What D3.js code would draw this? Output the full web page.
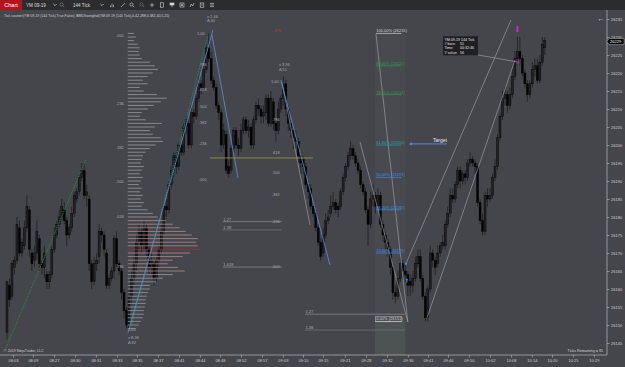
<!DOCTYPE html>
<html>
<head>
<meta charset="utf-8">
<script src="https://cdn.jsdelivr.net/npm/d3@7"></script>
<style>
  body { margin: 0; background: #45454c; }
  svg { display: block; font-family: "Liberation Sans", Arial, sans-serif; }
</style>
</head>
<body>
<svg id="chart" width="625" height="367"></svg>
<script>
// YM 09-19, 144 tick bars
const opens = [
  26148,26161,26158,26166,26168,26177,26170,26172,26177,26182,
  26170,26168,26170,26174,26167,26166,26164,26162,26164,26171,
  26175,26178,26180,26182,26179,26175,26177,26181,26185,26187,
  26191,26193,26186,26185,26167,26162,26167,26169,26176,26175,
  26170,26161,26163,26165,26174,26167,26165,26159,26154,26149,
  26158,26163,26167,26173,26176,26172,26177,26171,26166,26167,
  26163,26168,26171,26176,26183,26182,26189,26193,26197,26194,
  26200,26198,26205,26206,26200,26209,26208,26213,26217,26216,
  26221,26227,26224,26218,26216,26211,26209,26200,26203,26194,
  26193,26199,26204,26200,26199,26204,26207,26204,26205,26200,
  26207,26211,26210,26208,26209,26213,26206,26212,26206,26204,
  26210,26213,26217,26210,26206,26204,26202,26201,26197,26196,
  26194,26189,26188,26183,26181,26177,26173,26170,26175,26179,
  26181,26183,26184,26183,26183,26187,26191,26194,26197,26199,
  26197,26195,26193,26189,26187,26182,26178,26185,26186,26183,
  26186,26178,26175,26173,26171,26166,26159,26158,26163,26167,
  26165,26164,26162,26161,26163,26167,26169,26163,26158,26152,
  26160,26170,26168,26167,26170,26172,26172,26178,26181,26186,
  26185,26189,26193,26190,26192,26191,26195,26196,26195,26194,
  26184,26179,26176,26186,26185,26186,26191,26194,26202,26208,
  26213,26214,26211,26214,26219,26224,26226,26224,26220,26217,
  26214,26217,26221,26222,26218,26223,26227
];
const highs = [
  26162,26163,26168,26169,26180,26179,26174,26179,26186,26183,
  26171,26172,26179,26175,26168,26172,26165,26165,26172,26177,
  26179,26182,26185,26184,26180,26178,26183,26187,26188,26192,
  26195,26195,26189,26186,26168,26169,26170,26178,26177,26176,
  26171,26164,26166,26175,26176,26168,26166,26160,26155,26160,
  26165,26169,26175,26178,26177,26179,26178,26172,26170,26168,
  26169,26172,26178,26184,26185,26190,26194,26198,26198,26201,
  26201,26206,26208,26208,26211,26210,26214,26219,26218,26223,
  26228,26231,26226,26219,26217,26212,26210,26206,26204,26196,
  26200,26205,26205,26202,26206,26208,26208,26207,26206,26208,
  26212,26213,26211,26211,26214,26214,26215,26213,26207,26212,
  26214,26219,26218,26211,26207,26205,26204,26202,26198,26197,
  26195,26190,26189,26184,26182,26178,26174,26177,26181,26182,
  26186,26187,26185,26184,26188,26192,26195,26198,26201,26200,
  26198,26196,26194,26190,26188,26183,26187,26189,26187,26188,
  26187,26179,26176,26174,26172,26167,26161,26165,26169,26168,
  26167,26165,26164,26165,26169,26171,26171,26164,26159,26161,
  26172,26171,26169,26172,26173,26175,26179,26183,26188,26188,
  26190,26194,26194,26193,26193,26196,26198,26197,26196,26195,
  26185,26181,26187,26188,26188,26192,26196,26203,26209,26215,
  26216,26215,26216,26221,26226,26230,26230,26225,26221,26218,
  26218,26223,26224,26224,26225,26230,26230
];
const lows = [
  26146,26155,26157,26164,26167,26169,26169,26171,26176,26169,
  26165,26166,26168,26165,26164,26163,26160,26160,26163,26170,
  26174,26177,26179,26178,26172,26174,26176,26180,26184,26186,
  26190,26185,26183,26165,26160,26161,26165,26167,26173,26169,
  26160,26160,26162,26163,26166,26164,26157,26152,26149,26148,
  26156,26161,26165,26171,26170,26171,26169,26164,26164,26161,
  26162,26166,26170,26175,26180,26181,26188,26191,26192,26193,
  26197,26197,26203,26199,26199,26206,26207,26212,26214,26215,
  26220,26223,26217,26215,26210,26207,26198,26199,26192,26191,
  26192,26198,26199,26197,26198,26203,26203,26202,26199,26199,
  26206,26208,26206,26206,26207,26205,26205,26204,26201,26203,
  26209,26211,26208,26204,26202,26199,26199,26195,26192,26192,
  26188,26185,26182,26180,26176,26172,26168,26169,26174,26178,
  26180,26182,26181,26180,26182,26186,26190,26193,26196,26196,
  26194,26192,26188,26186,26181,26172,26177,26183,26181,26182,
  26177,26173,26171,26169,26164,26157,26156,26157,26162,26163,
  26162,26158,26158,26159,26162,26166,26162,26157,26151,26151,
  26159,26166,26164,26166,26169,26171,26171,26177,26180,26184,
  26184,26188,26188,26189,26189,26190,26194,26194,26192,26183,
  26178,26175,26175,26183,26184,26185,26190,26193,26201,26207,
  26211,26209,26210,26213,26218,26223,26222,26219,26216,26212,
  26213,26216,26219,26217,26217,26222,26225
];
const closes = [
  26162,26157,26167,26168,26178,26170,26173,26177,26183,26171,
  26167,26170,26176,26167,26166,26170,26162,26164,26171,26175,
  26178,26180,26183,26179,26175,26177,26181,26186,26187,26191,
  26193,26186,26187,26167,26162,26167,26168,26176,26175,26171,
  26161,26163,26165,26174,26167,26165,26159,26154,26150,26158,
  26163,26167,26173,26176,26172,26177,26171,26166,26168,26163,
  26168,26171,26176,26183,26182,26189,26193,26197,26194,26200,
  26198,26205,26207,26200,26209,26208,26213,26217,26216,26221,
  26227,26224,26218,26216,26211,26209,26200,26204,26193,26192,
  26199,26204,26200,26199,26204,26207,26204,26205,26200,26207,
  26211,26210,26208,26209,26213,26206,26213,26206,26204,26210,
  26213,26217,26210,26206,26204,26202,26201,26197,26195,26194,
  26189,26187,26183,26181,26177,26173,26169,26175,26179,26180,
  26183,26184,26182,26182,26187,26191,26194,26197,26199,26197,
  26195,26193,26189,26187,26182,26178,26185,26186,26183,26186,
  26178,26175,26173,26171,26166,26159,26158,26163,26167,26165,
  26164,26161,26161,26163,26167,26169,26163,26158,26152,26160,
  26170,26168,26166,26170,26172,26173,26178,26181,26186,26185,
  26189,26193,26190,26192,26191,26195,26196,26195,26194,26184,
  26179,26176,26186,26185,26186,26191,26194,26202,26208,26213,
  26214,26211,26214,26219,26224,26226,26224,26220,26217,26214,
  26217,26221,26222,26218,26223,26228,26229
];

// time axis: bar position of each label
const timeTickBars = [2.4,10.4,18.9,27.3,35.7,44.2,52.2,60.6,69.1,77.5,85.5,94.0,102.4,110.8,
  118.9,126.9,135.7,144.2,152.6,161.0,169.1,177.1,185.5,194.0,202.4,210.8,218.9,227.3,235.7];
const timeLabels = ["08:03","08:09","08:27","08:30","08:31","08:33","08:35","08:37","08:41","08:44",
  "08:48","08:52","08:57","09:03","09:10","09:15","09:21","09:28","09:32","09:36","09:41","09:46",
  "09:50","10:02","10:08","10:14","10:20","10:25","10:29"];
const priceTicks = d3.range(26145, 26236, 5);
const lastPrice = 26229;

// volume profile, one row per point from 26231 down to 26149
const profileTop = 26231;
const profileVol = [
  6,8,6,10,12,11,12,14,22,27,
  30,25,20,15,20,12,16,29,39,33,
  26,20,14,12,18,34,27,22,25,33,
  35,28,22,18,15,14,13,16,14,12,
  15,13,11,14,12,15,13,16,14,20,
  25,30,38,45,52,58,64,70,68,70,
  72,62,55,45,40,50,57,45,35,28,
  22,22,20,19,18,18,17,16,16,15,
  13,11,8
];
const profileBar = 48.5;
const valueHigh = 26179, valueLow = 26165, pocPrice = 26171;

// swing fib labels  [label, price]
const swingA = { bar: 43.8, one: [48.6, 26148.6], v: "v 8.36", d: "Δ 82",
  levels: [[".000",26230.3],[".236",26211.4],[".382",26199.4],[".500",26189.7],[".618",26180],[".786",26166.1]] };
const swingB = { bar: 77.1, one: [76.3, 26231], v: "v 2.46", d: "Δ 40",
  levels: [[".786",26222.2],[".618",26215.3],[".500",26210.8],[".382",26206.1],[".236",26200.3],[".000",26190.3]] };
const swingC = { bar: 106.4, one: [106.0, 26217.5], v: "v 3.96", d: "Δ 51",
  levels: [[".786",26207],[".618",26198],[".500",26192.2],[".382",26186.1],[".236",26178.6],[".000",26166.1]] };

// extension levels
const ext1 = { from: 86.7, to: 110.4, levels: [["1.27",26178.7],["1.38",26176.4],["1.618",26166.1]] };
const ext2 = { from: 119.7, to: 159.8, levels: [["1.27",26153],["1.38",26148.6]] };

// fib retracement tool
const fibPct = ["100.00%","88.60%","78.60%","61.80%","50.00%","38.20%","23.60%","0.00%"];
const fibPrice = [26231,26222,26214,26200,26191,26182,26170,26151];
const fibFrom = 148.2, fibTo = 158.4;

// drawn lines [bar1, price1, bar2, price2]
const greenLines = [[-0.8,26143,31.7,26196],[49.4,26148.3,80.7,26230.3]];
const blueLines = [[48.6,26147.8,82.7,26231.9],[82.3,26230.6,92.8,26190.8],[110,26218,129.7,26166.7]];
const grayLines = [[110.4,26217.5,121.7,26177.8],[141.8,26200.8,161,26150.8],[148.2,26230.8,161,26150.8],
  [160.2,26167,202.4,26234.7],[168.7,26152,204,26223.6],[189.2,26225,204.8,26223.1]];
const yellowLine = [81.5,26196.4,122.9];
const targetArrow = [176.7,161.4,26200.3];

const tooltip = { bar: 175.1, price: 26230.2,
  rows: [["YM 09-19 144 Tick",""],["# bars:","51"],["Time:","00:32:46"],["Y value:","56"]] };

const svg = d3.select("#chart");
const W = 625, H = 367;
const plotTop = 10, plotBottom = 355, plotRight = 607;

const x = d3.scaleLinear().domain([0, 216]).range([7, 544.8]);
const y = d3.scaleLinear().domain([26145, 26235]).range([343, 19]);
const FS = 4;

svg.append("rect").attr("width", W).attr("height", H).attr("fill", "#45454c");

svg.append("defs").append("clipPath").attr("id", "plot")
  .append("rect").attr("x", 0).attr("y", plotTop).attr("width", plotRight).attr("height", plotBottom - plotTop);

const plot = svg.append("g").attr("clip-path", "url(#plot)");

// fib tool band
plot.append("rect")
  .attr("x", x(fibFrom) - 1).attr("width", x(fibTo) - x(fibFrom) + 5)
  .attr("y", y(fibPrice[0])).attr("height", plotBottom - y(fibPrice[0]))
  .attr("fill", "#ffffff").attr("opacity", 0.025);
plot.append("rect")
  .attr("x", x(fibFrom) - 1).attr("width", x(fibTo) - x(fibFrom) + 5)
  .attr("y", y(fibPrice[7])).attr("height", plotBottom - y(fibPrice[7]))
  .attr("fill", "#6f9a6f").attr("opacity", 0.12);

// candles
const bars = opens.map((o, i) => ({ i, o, h: highs[i], l: lows[i], c: closes[i] }));
plot.append("g").selectAll("line").data(bars).join("line")
  .attr("x1", d => x(d.i)).attr("x2", d => x(d.i))
  .attr("y1", d => y(d.h)).attr("y2", d => y(d.l))
  .attr("stroke", "#1e1e22").attr("stroke-width", 0.8);
plot.append("g").selectAll("rect").data(bars).join("rect")
  .attr("x", d => x(d.i) - 1).attr("width", 2)
  .attr("y", d => y(Math.max(d.o, d.c)))
  .attr("height", d => Math.max(0.7, Math.abs(y(d.o) - y(d.c))))
  .attr("fill", d => d.c >= d.o ? "#232327" : "#050505")
  .attr("stroke", "#000").attr("stroke-width", 0.4);

// volume profile
const vx = d3.scaleLinear().domain([0, 72]).range([0, 72]);
const rows = profileVol.map((v, k) => ({ p: profileTop - k, v }));
plot.append("g").selectAll("line").data(rows).join("line")
  .attr("x1", x(profileBar)).attr("x2", d => x(profileBar) + vx(d.v))
  .attr("y1", d => y(d.p)).attr("y2", d => y(d.p))
  .attr("stroke", d => d.p === pocPrice ? "#b22a2a" : (d.p >= valueLow && d.p <= valueHigh ? "#c49a9a" : "#a9a9b0"))
  .attr("stroke-width", 0.9).attr("opacity", 0.75);

// lines
const seg = (g, arr, color, w, dash) => g.selectAll(null).data(arr).join("line")
  .attr("x1", d => x(d[0])).attr("y1", d => y(d[1]))
  .attr("x2", d => x(d[2])).attr("y2", d => y(d[3]))
  .attr("stroke", color).attr("stroke-width", w).attr("stroke-dasharray", dash || null);
seg(plot.append("g"), grayLines, "#a8a8ae", 0.6);
seg(plot.append("g"), greenLines, "#2f9a3a", 0.7, "1.5,1");
seg(plot.append("g"), blueLines, "#5b93d8", 0.8);

plot.append("line")
  .attr("x1", x(yellowLine[0])).attr("x2", x(yellowLine[2]))
  .attr("y1", y(yellowLine[1])).attr("y2", y(yellowLine[1]))
  .attr("stroke", "#9a9a2a").attr("stroke-width", 0.8);

// fib label sets
const txt = (g, tx, ty, s, color, size, anchor) => g.append("text")
  .attr("x", tx).attr("y", ty).attr("dy", "0.35em")
  .attr("fill", color || "#a8a8ae").attr("font-size", size || FS)
  .attr("text-anchor", anchor || "start").text(s);

[swingA, swingB, swingC].forEach((s, k) => {
  const g = plot.append("g");
  s.levels.forEach(([lab, p]) => txt(g, x(s.bar), y(p), lab));
  txt(g, x(s.one[0]), y(s.one[1]), "1.00");
  const down = k === 0;
  const vx0 = k === 0 ? x(s.one[0]) : x(s.one[0]) + (k === 1 ? 10 : 8);
  txt(g, vx0, y(s.one[1]) + (down ? 8 : -17), s.v);
  txt(g, vx0, y(s.one[1]) + (down ? 12.5 : -12.5), s.d);
});
txt(plot, x(106.4), y(26231.7), "- 278", "#c43030");

[ext1, ext2].forEach(e => {
  const g = plot.append("g");
  e.levels.forEach(([lab, p], k) => {
    g.append("line").attr("x1", x(e.from)).attr("x2", x(e.to))
      .attr("y1", y(p)).attr("y2", y(p))
      .attr("stroke", k === 1 ? "#7d7d85" : "#9a9aa6").attr("stroke-width", 0.6);
    txt(g, x(e.from) + 0.5, y(p) - 2.4, lab);
  });
});

// fib retracement labels
const fibColors = ["#d6d6d6","#2e9a4c","#2e9a4c","#21a3a0","#3d8fe0","#3d8fe0","#3d8fe0","#d6d6d6"];
const gf = plot.append("g");
fibPct.forEach((pc, k) => {
  const py = y(fibPrice[k]);
  gf.append("line").attr("x1", x(fibFrom)).attr("x2", x(fibTo))
    .attr("y1", py).attr("y2", py).attr("stroke", fibColors[k]).attr("stroke-width", 0.7);
  gf.append("text").attr("x", x(fibFrom) + 0.3).attr("y", py - 1)
    .attr("fill", fibColors[k]).attr("font-size", FS).text(`${pc} (${fibPrice[k]})`);
});
gf.append("rect").attr("x", x(fibFrom) - 0.5).attr("y", y(fibPrice[7]) - 4.6)
  .attr("width", x(fibTo) - x(fibFrom) + 1).attr("height", 5)
  .attr("fill", "none").attr("stroke", "#c8c8c8").attr("stroke-width", 0.5);

// target arrow
const ty0 = y(targetArrow[2]);
plot.append("line").attr("x1", x(targetArrow[0])).attr("x2", x(targetArrow[1]) + 2)
  .attr("y1", ty0).attr("y2", ty0).attr("stroke", "#5b8fe0").attr("stroke-width", 0.9);
plot.append("path")
  .attr("d", `M${x(targetArrow[1])},${ty0} l3,-1.6 l0,3.2 z`).attr("fill", "#5b8fe0");
plot.append("text").attr("x", x(targetArrow[0])).attr("y", ty0 - 2.2)
  .attr("text-anchor", "end").attr("fill", "#e8e8e8").attr("font-size", 5).text("Target");

// markers
plot.append("rect").attr("x", x(160.2) - 1).attr("y", y(26167) - 1).attr("width", 2).attr("height", 2).attr("fill", "#3d8fe8");
plot.append("path").attr("d", `M${x(160.6)},${y(26163)} l-1.5,2 l1,0 l0,2.5 l1,0 l0,-2.5 l1,0 z`).attr("fill", "#3d8fe8");
plot.append("rect").attr("x", x(205) - 0.9).attr("y", y(26233)).attr("width", 1.8)
  .attr("height", y(26231.4) - y(26233)).attr("fill", "#e020e0");
plot.append("rect").attr("x", x(205.4) - 0.8).attr("y", y(26223.2)).attr("width", 1.6)
  .attr("height", 2).attr("fill", "#e020e0");

// tooltip
const tx0 = x(tooltip.bar), tyT = y(tooltip.price);
plot.append("rect").attr("x", tx0).attr("y", tyT).attr("width", 35).attr("height", 19)
  .attr("fill", "#1e1e20").attr("opacity", 0.95);
tooltip.rows.forEach(([a, b], k) => {
  plot.append("text").attr("x", tx0 + 1.5).attr("y", tyT + 4.3 + k * 4.4)
    .attr("fill", "#e6e6e6").attr("font-size", 3.6).text(a);
  plot.append("text").attr("x", tx0 + 17).attr("y", tyT + 4.3 + k * 4.4)
    .attr("fill", "#e6e6e6").attr("font-size", 3.6).text(b);
});

// texts in plot
svg.append("text").attr("x", 4).attr("y", 17).attr("fill", "#d0d0d0").attr("font-size", 3.5)
  .text("Tick counter(YM 09-19 (144 Tick),True,False), BMDSwingInd(YM 09-19 (144 Tick),0.42,288,0.382,40,5,25)");
svg.append("text").attr("x", 4).attr("y", 352).attr("fill", "#d0d0d0").attr("font-size", 3.6)
  .text("© 2019 NinjaTrader, LLC");
svg.append("text").attr("x", 603).attr("y", 352).attr("text-anchor", "end").attr("fill", "#d8d8d8")
  .attr("font-size", 3.7).text("Ticks Remaining = 91");
svg.append("text").attr("x", 601).attr("y", 21).attr("text-anchor", "middle").attr("fill", "#d8d8d8")
  .attr("font-size", 7).text("←");

// right axis
const yAxis = svg.append("g").attr("transform", `translate(${plotRight},0)`)
  .call(d3.axisRight(y).tickValues(priceTicks).tickSize(2.5).tickPadding(1.5).tickFormat(d3.format("d")));
yAxis.select(".domain").remove();
yAxis.selectAll("line").attr("stroke", "#b8b8b8").attr("stroke-width", 0.6);
yAxis.selectAll("text").attr("fill", "#cfcfcf").attr("font-size", FS).attr("font-family", "Liberation Sans, Arial");
svg.append("line").attr("x1", plotRight).attr("x2", plotRight).attr("y1", plotTop).attr("y2", plotBottom)
  .attr("stroke", "#b8b8b8").attr("stroke-width", 0.7);

// last price box
const lp = y(lastPrice) + 1;
svg.append("path").attr("d", `M${plotRight},${lp} l2,-3 l15,0 l0,6 l-15,0 z`).attr("fill", "#000")
  .attr("stroke", "#ddd").attr("stroke-width", 0.4);
svg.append("text").attr("x", plotRight + 3).attr("y", lp).attr("dy", "0.35em").attr("fill", "#fff")
  .attr("font-size", FS).text(lastPrice);

// bottom axis
const xAxis = svg.append("g").attr("transform", `translate(0,${plotBottom})`)
  .call(d3.axisBottom(x).tickValues(timeTickBars).tickSize(2.5).tickPadding(2)
    .tickFormat((d, i) => timeLabels[i]));
xAxis.select(".domain").remove();
xAxis.selectAll("line").attr("stroke", "#b8b8b8").attr("stroke-width", 0.6);
xAxis.selectAll("text").attr("fill", "#cfcfcf").attr("font-size", FS).attr("font-family", "Liberation Sans, Arial");
svg.append("line").attr("x1", 0).attr("x2", plotRight).attr("y1", plotBottom).attr("y2", plotBottom)
  .attr("stroke", "#b8b8b8").attr("stroke-width", 0.7);

// toolbar
const tb = svg.append("g");
tb.append("rect").attr("width", W).attr("height", plotTop).attr("fill", "#2c2c2e");
tb.append("rect").attr("width", 22).attr("height", plotTop).attr("fill", "#b3141c");
tb.append("text").attr("x", 11).attr("y", 7.3).attr("text-anchor", "middle").attr("fill", "#fff")
  .attr("font-size", 5.6).text("Chart");
tb.append("text").attr("x", 26).attr("y", 6.8).attr("fill", "#dcdcdc").attr("font-size", 4.6).text("YM 09-19");
tb.append("text").attr("x", 73).attr("y", 6.8).attr("fill", "#dcdcdc").attr("font-size", 4.6).text("144 Tick");
const ic = "#d8d8d8";
[55, 102].forEach(cx => tb.append("path").attr("d", `M${cx - 1.6},${4} l1.6,1.6 l1.6,-1.6`)
  .attr("fill", "none").attr("stroke", ic).attr("stroke-width", 0.7));
const icon = (cx, draw) => draw(tb.append("g").attr("transform", `translate(${cx},5)`)
  .attr("fill", "none").attr("stroke", ic).attr("stroke-width", 0.6));
const mag = g => { g.append("circle").attr("cx", -0.5).attr("cy", -0.5).attr("r", 1.6); g.append("line").attr("x1", 0.7).attr("y1", 0.7).attr("x2", 2.2).attr("y2", 2.2); };
icon(62, g => { mag(g); g.attr("stroke", "#888"); });
icon(112, g => { [[-1.5,0.5],[0,-1.5],[1.5,-0.5]].forEach(([a, b]) => g.append("line").attr("x1", a).attr("x2", a).attr("y1", b).attr("y2", 2.2)); });
icon(123, g => { g.append("line").attr("x1", -2).attr("y1", 2).attr("x2", 2).attr("y2", -2); });
icon(132, g => mag(g));
icon(142, g => { mag(g); g.attr("stroke", "#777"); });
icon(152, g => { g.append("line").attr("x1", -2.2).attr("x2", 2.2).attr("y1", 0).attr("y2", 0); g.append("line").attr("x1", 0).attr("x2", 0).attr("y1", -2.2).attr("y2", 2.2); });
icon(162, g => { g.append("rect").attr("x", -1.6).attr("y", -2.2).attr("width", 3.2).attr("height", 4.4); });
icon(172, g => { g.append("rect").attr("x", -2).attr("y", -2).attr("width", 4).attr("height", 2).attr("fill", ic); g.append("line").attr("x1", 0).attr("x2", 0).attr("y1", 0).attr("y2", 2.4); });
icon(182, g => { g.append("rect").attr("x", -2).attr("y", -2).attr("width", 4).attr("height", 4); g.append("line").attr("x1", -1).attr("y1", -1).attr("x2", 1).attr("y2", 1); g.append("line").attr("x1", 1).attr("y1", -1).attr("x2", -1).attr("y2", 1); });
icon(192, g => { g.append("path").attr("d", "M-2,2 L-0.7,-1 L0.7,1 L2,-2"); });
icon(202, g => { g.append("rect").attr("x", -1.8).attr("y", -2).attr("width", 3.6).attr("height", 4.2); g.append("line").attr("x1", -0.8).attr("x2", 0.8).attr("y1", 0).attr("y2", 0); });
icon(212, g => { [-1.6, 0, 1.6].forEach(v => g.append("line").attr("x1", -2).attr("x2", 2).attr("y1", v).attr("y2", v)); });
</script>
</body>
</html>
